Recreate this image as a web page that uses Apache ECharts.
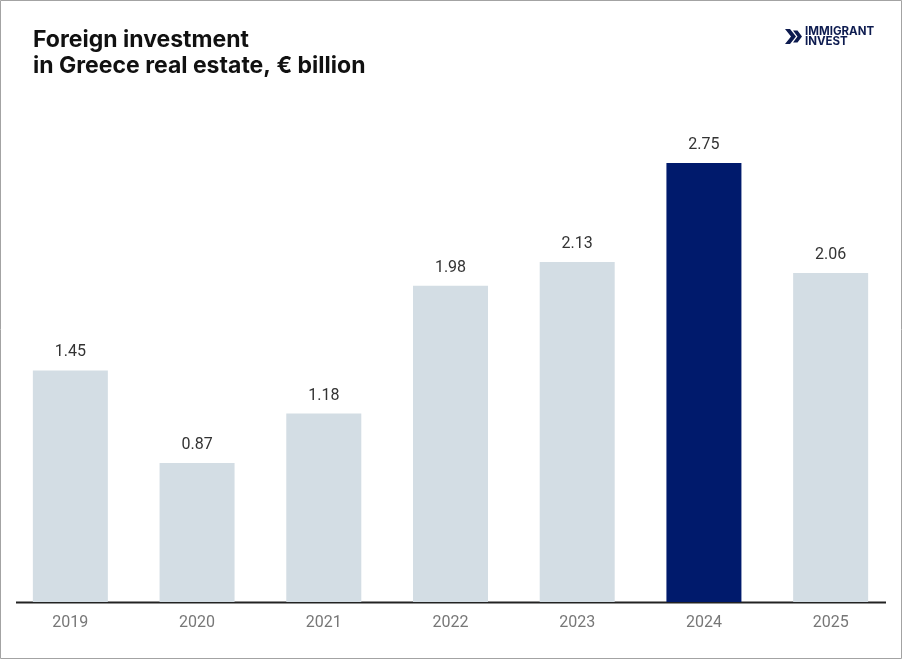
<!DOCTYPE html>
<html>
<head>
<meta charset="utf-8">
<script src="https://cdn.jsdelivr.net/npm/echarts@6/dist/echarts.min.js"></script>
<style>
  html, body { margin: 0; padding: 0; background: #fff; }
  #chart { width: 902px; height: 659px; }
</style>
</head>
<body>
<div id="chart"></div>
<script>
const years = ['2019', '2020', '2021', '2022', '2023', '2024', '2025']
const values = [1.45, 0.87, 1.18, 1.98, 2.13, 2.75, 2.06]
const highlightYear = '2024'

const chart = echarts.init(document.getElementById('chart'))

const seriesData = values.map((v, i) => ({
  value: v,
  itemStyle: { color: years[i] === highlightYear ? '#001a6c' : '#d3dde4' }
}))

chart.setOption({
  animation: false,
  grid: { left: 7, right: 8, top: 123, bottom: 57 },
  xAxis: {
    type: 'category',
    data: years,
    axisLine: { show: false },
    axisTick: { show: false },
    axisLabel: {
      color: '#777',
      fontFamily: 'Roboto',
      fontSize: 16,
      margin: 13
    }
  },
  yAxis: {
    type: 'value',
    min: 0,
    max: 3,
    show: false,
    splitLine: { show: false }
  },
  series: [{
    type: 'bar',
    barWidth: 75,
    data: seriesData,
    label: {
      show: true,
      position: 'top',
      distance: 10,
      color: '#333',
      fontFamily: 'Roboto',
      fontSize: 16,
      formatter: p => p.value.toFixed(2)
    }
  }]
})

// base line, border, title and logo
const baseY = chart.convertToPixel({ yAxisIndex: 0 }, 0)
chart.setOption({
  graphic: [
    {
      type: 'rect',
      shape: { x: 0.5, y: 0.5, width: 901, height: 658 },
      style: { fill: 'none', stroke: '#a3a3a3', lineWidth: 1 },
      silent: true
    },
    {
      type: 'line',
      shape: { x1: 16, y1: baseY + 0.5, x2: 886, y2: baseY + 0.5 },
      style: { stroke: '#222', lineWidth: 2 }
    },
    {
      type: 'text',
      left: 33,
      top: 27,
      style: {
        text: 'Foreign investment\nin Greece real estate, € billion',
        font: 'bold 23px Inter',
        lineHeight: 26,
        fill: '#111'
      }
    },
    {
      type: 'polygon',
      shape: { points: [[785, 29], [790, 29], [796, 36.5], [790, 44], [785, 44], [791, 36.5]] },
      style: { fill: '#0d1b4f' }
    },
    {
      type: 'polygon',
      shape: { points: [[793, 30.5], [797.5, 30.5], [802, 36.5], [797.5, 42.5], [793, 42.5], [797.5, 36.5]] },
      style: { fill: '#0d1b4f' }
    },
    {
      type: 'text',
      style: {
        x: 805, y: 32,
        text: 'IMMIGRANT',
        font: 'bold 11.5px Inter',
        verticalAlign: 'middle',
        fill: '#0d1b4f'
      }
    },
    {
      type: 'text',
      style: {
        x: 805, y: 42,
        text: 'INVEST',
        font: 'bold 11.5px Inter',
        verticalAlign: 'middle',
        fill: '#0d1b4f'
      }
    }
  ]
})
</script>
</body>
</html>
